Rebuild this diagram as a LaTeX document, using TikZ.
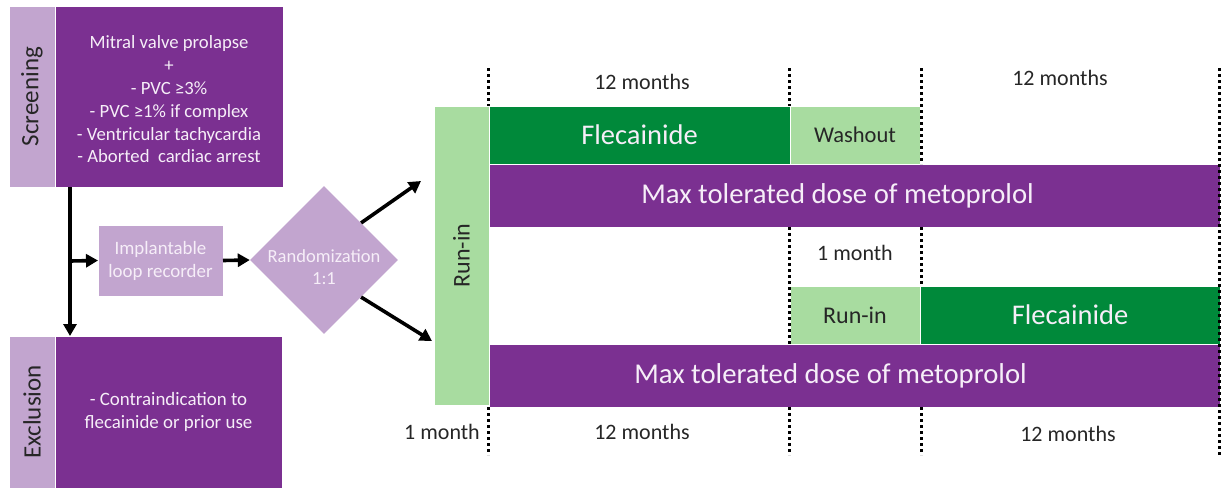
\documentclass[tikz,border=0pt]{standalone}
\usepackage{fontspec}
\setmainfont{Carlito}
\usetikzlibrary{shapes.geometric,arrows.meta,calc}
\definecolor{dpurple}{RGB}{123,48,145}
\definecolor{lpurple}{RGB}{194,165,207}
\definecolor{dgreen}{RGB}{0,137,58}
\definecolor{lgreen}{RGB}{168,220,160}
\definecolor{dtext}{RGB}{38,38,38}
\definecolor{wtext}{RGB}{246,238,248}
\tikzset{
  blk/.style={anchor=north west,inner sep=0pt,outer sep=0pt,draw=white,line width=0.6pt},
  dbox/.style={blk,fill=dpurple,text=wtext},
  lbox/.style={blk,fill=lpurple,text=dtext},
  gbox/.style={blk,fill=dgreen,text=wtext},
  lgbox/.style={blk,fill=lgreen,text=dtext},
  arr/.style={line width=3.6pt,-{Triangle[length=12pt,width=13pt]}},
  dotline/.style={line width=3pt,dash pattern=on 3pt off 3pt},
  lbl/.style={text=dtext,font=\fontsize{22}{26}\selectfont,inner sep=0pt},
}
\begin{document}
\begin{tikzpicture}[x=1pt,y=-1pt]
\useasboundingbox (0,0) rectangle (1221,488);
% left column
\node[lbox,minimum width=46pt,minimum height=181pt] (scrL) at (9,6) {};
\node[rotate=90,text=dtext,font=\fontsize{25}{30}\selectfont] (scrT) at (scrL.center) {Screening};
\node[dbox,minimum width=228pt,minimum height=181pt,align=center,font=\fontsize{18.7}{22.8}\selectfont] (scr) at (55,6)
 {\\[-4pt]Mitral valve prolapse\\+\\- PVC ≥3\%\\- PVC ≥1\% if complex\\- Ventricular tachycardia\\- Aborted\ \ cardiac arrest};
\node[lbox,minimum width=46pt,minimum height=152pt] (excL) at (9,336) {};
\node[rotate=90,text=dtext,font=\fontsize{25}{30}\selectfont] (excT) at (excL.center) {Exclusion};
\node[dbox,minimum width=227pt,minimum height=152pt,align=center,font=\fontsize{18.9}{23}\selectfont] (exc) at (55,336)
 {- Contraindication to\\flecainide or prior use};
\node[lbox,text=wtext,minimum width=125pt,minimum height=71pt,align=center,font=\fontsize{18.9}{23}\selectfont] (ilr) at (98,225)
 {Implantable\\loop recorder};
\node[diamond,fill=lpurple,inner sep=0pt,minimum width=148pt,minimum height=148pt] (rand) at (324,260) {};
\node[text=wtext,align=center,inner sep=0pt,font=\fontsize{18.5}{22}\selectfont] (randT) at (324,267) {Randomization\\1:1};
% arrows
\coordinate (br) at (70,261);
\draw[arr] (scr.south west -| br) -- (exc.north west -| br);
\draw[arr] (br) -- (ilr.west);
\draw[arr] (ilr.east) -- (rand.west);
\coordinate (upend) at (421,181);
\coordinate (dnend) at (432,341);
\draw[arr] ($(rand.north)!0.5!(rand.east)$) -- (upend);
\draw[arr] ($(rand.south)!0.5!(rand.east)$) -- (dnend);
% timeline
\node[lgbox,minimum width=55pt,minimum height=299pt] (runL) at (434,106) {};
\node[rotate=90,text=dtext,font=\fontsize{24}{28}\selectfont] (runT) at (runL.center) {Run-in};
\node[gbox,minimum width=301pt,minimum height=58pt,font=\fontsize{28.5}{32}\selectfont] (fle1) at (489,106) {Flecainide};
\node[lgbox,minimum width=130pt,minimum height=58pt,font=\fontsize{22.5}{26}\selectfont] (wash) at (790,106) {Washout};
\node[dbox,minimum width=731pt,minimum height=63pt,font=\fontsize{28.7}{32}\selectfont] (met1) at (489,164) {Max tolerated dose of metoprolol\hspace*{34pt}};
\node[lgbox,minimum width=130pt,minimum height=58pt,font=\fontsize{24}{28}\selectfont] (run2) at (790,286) {Run-in};
\node[gbox,minimum width=300pt,minimum height=58pt,font=\fontsize{28.5}{32}\selectfont] (fle2) at (920,286) {Flecainide};
\node[dbox,minimum width=731pt,minimum height=63pt,font=\fontsize{28.7}{32}\selectfont] (met2) at (489,344) {Max tolerated dose of metoprolol\hspace*{48pt}};
% dotted lines
\coordinate (a1) at (488,68); \coordinate (a2) at (488,455);
\coordinate (b1) at (789,68); \coordinate (c1) at (921,68); \coordinate (d1) at (1219.5,68);
\draw[dotline] (a1) -- (fle1.north west -| a1);
\draw[dotline] (met2.south west -| a1) -- (a2);
\draw[dotline] (b1) -- (fle1.north east -| b1);
\draw[dotline] (met1.south -| b1) -- (met2.north -| b1);
\draw[dotline] (met2.south -| b1) -- (a2 -| b1);
\draw[dotline] (c1) -- (met1.north -| c1);
\draw[dotline] (met1.south -| c1) -- (run2.north -| c1);
\draw[dotline] (met2.south -| c1) -- (a2 -| c1);
\draw[dotline] (d1) -- (a2 -| d1);
% labels
\node[lbl] (l1) at (642,82) {12 months};
\node[lbl] (l2) at (1060,78) {12 months};
\node[lbl] (l3) at (855,253) {1 month};
\node[lbl,anchor=east] (l4) at (480,432) {1 month};
\node[lbl] (l5) at (642,432) {12 months};
\node[lbl] (l6) at (1068,434) {12 months};
\end{tikzpicture}
\end{document}
